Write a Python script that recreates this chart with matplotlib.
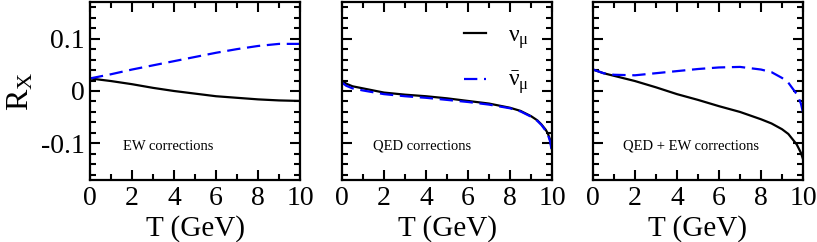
import numpy as np
import matplotlib.pyplot as plt
from matplotlib.ticker import MultipleLocator

plt.rcParams['font.family'] = ['Liberation Serif', 'DejaVu Serif']
plt.rcParams['mathtext.fontset'] = 'custom'
plt.rcParams['mathtext.rm'] = 'Liberation Serif'
plt.rcParams['mathtext.it'] = 'Liberation Serif:italic'

# values
T_ew = [0, 1, 2, 3, 4, 5, 6, 7, 8, 9, 10]
ew_nu = [0.024, 0.019, 0.013, 0.006, 0.000, -0.005, -0.010, -0.013, -0.016, -0.018, -0.019]
ew_nubar = [0.024, 0.032, 0.041, 0.049, 0.057, 0.065, 0.073, 0.080, 0.086, 0.090, 0.090]

T_qed = [0, 0.2, 0.5, 1, 2, 3, 4, 5, 6, 7, 8, 8.5, 9, 9.3, 9.5, 9.7, 9.8, 9.9, 10]
qed_nu = [0.020, 0.014, 0.009, 0.005, -0.003, -0.007, -0.010, -0.014, -0.019, -0.024, -0.032,
          -0.038, -0.048, -0.056, -0.064, -0.074, -0.081, -0.092, -0.112]
qed_nubar = [0.016, 0.010, 0.005, 0.001, -0.006, -0.010, -0.013, -0.017, -0.021, -0.026, -0.033,
             -0.039, -0.049, -0.057, -0.065, -0.076, -0.083, -0.095, -0.116]

T_all = [0, 0.5, 1, 2, 3, 4, 5, 6, 7, 8, 8.5, 9, 9.3, 9.5, 9.7, 9.8, 9.9, 10]
all_nu = [0.041, 0.034, 0.029, 0.019, 0.007, -0.006, -0.017, -0.029, -0.040, -0.054, -0.062,
          -0.073, -0.082, -0.092, -0.102, -0.110, -0.118, -0.130]
all_nubar = [0.041, 0.034, 0.031, 0.030, 0.034, 0.038, 0.042, 0.045, 0.046, 0.041, 0.036,
             0.025, 0.016, 0.005, -0.006, -0.014, -0.024, -0.041]

labels = ['EW corrections', 'QED corrections', 'QED + EW corrections']
panels = [(T_ew, ew_nu, ew_nubar), (T_qed, qed_nu, qed_nubar), (T_all, all_nu, all_nubar)]
lefts = [90, 342, 593]
label_x = [0.155, 0.148, 0.143]

fig = plt.figure(figsize=(8.17, 2.42), dpi=100)
W, H = 817., 242.
for i in range(3):
    ax = fig.add_axes([lefts[i] / W, 1 - 180 / H, 210 / W, 178 / H])
    T, nu, nubar = panels[i]
    ax.plot(T, nu, color='black', lw=1.6, label=r'$\mathrm{\nu}_\mathrm{\mu}$')
    ax.plot(T, nubar, color='blue', lw=1.6, dashes=(6, 3), label=r'$\bar{\mathrm{\nu}}_\mathrm{\mu}$')
    ax.set_xlim(0, 10)
    ax.set_ylim(-0.17, 0.17)
    ax.xaxis.set_major_locator(MultipleLocator(2))
    ax.xaxis.set_minor_locator(MultipleLocator(1))
    ax.yaxis.set_major_locator(MultipleLocator(0.1))
    ax.yaxis.set_minor_locator(MultipleLocator(0.02))
    ax.tick_params(which='both', direction='in', top=True, right=True, width=1.5,
                   labelsize=20, pad=4)
    ax.tick_params(which='major', length=7)
    ax.tick_params(which='minor', length=4)
    for s in ax.spines.values():
        s.set_linewidth(1.6)
    ax.set_xticks([0, 2, 4, 6, 8, 10])
    ax.set_xlabel('T (GeV)', fontsize=21, labelpad=3)
    ax.text(label_x[i], 0.19, labels[i], transform=ax.transAxes, fontsize=10.5, va='center')
    if i == 0:
        ax.set_yticks([-0.1, 0, 0.1])
        ax.set_yticklabels(['-0.1', '0', '0.1'])
        ax.set_ylabel(r'R$_\mathregular{X}$', fontsize=23, labelpad=4)
    else:
        ax.set_yticklabels([])
    if i == 1:
        ax.legend(loc='upper right', bbox_to_anchor=(0.99, 0.99), frameon=False,
                  fontsize=17, handlelength=0.95, labelspacing=0.8, handletextpad=0.9)

fig.savefig('out.png', dpi=100)
